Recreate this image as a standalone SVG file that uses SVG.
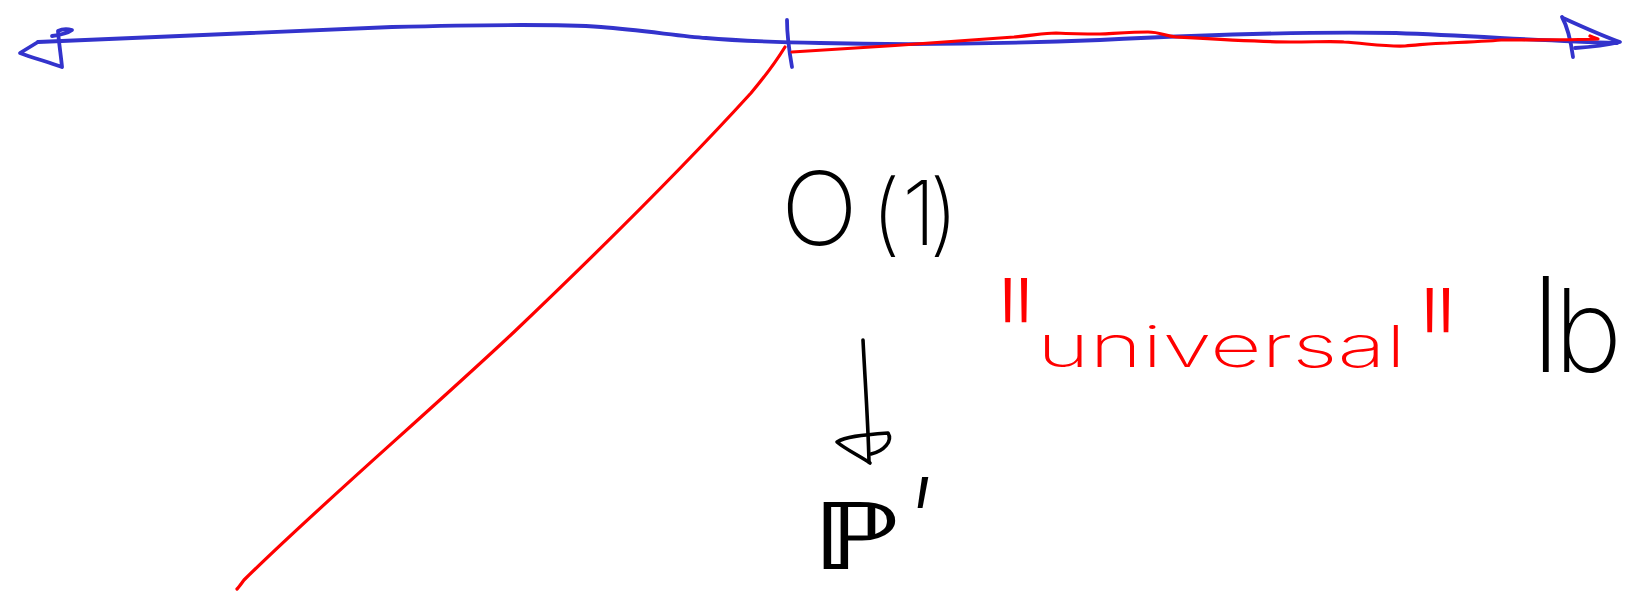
<svg xmlns="http://www.w3.org/2000/svg" width="1641" height="604" viewBox="0 0 1641 604">
<style>
.ink{fill:none;stroke-linecap:round;stroke-linejoin:round}
.blue{stroke:#3333cc;stroke-width:3.8}
.red{stroke:#ff0000;stroke-width:3.2}
.black{stroke:#000;stroke-width:3.6}
.t{font-family:Inter,"Open Sans","DejaVu Sans",sans-serif;font-weight:150}
.tb{fill:#000}
.tr{fill:#ff0000}
</style>
<rect width="1641" height="604" fill="#fff"/>
<g id="axes">
<path class="ink blue" d="M38,42 C120,38 250,32 392,27 C470,25 560,24 601,27 C640,30 680,36 706,38 C740,41 770,42 820,43 C900,45 1000,44 1100,40 C1200,35 1300,31 1396,33 C1480,36 1540,41 1617,43"/>
<path class="ink blue" d="M38,42 L20,53 C30,57 48,62 62,67 C61,56 59,44 58,31 C62,29 68,29 72,30 C68,33 60,35 52,36"/>
<path class="ink blue" d="M1562,17 C1567,26 1571,42 1573,57"/>
<path class="ink blue" d="M1563,18 C1585,28 1605,37 1620,42 C1607,45 1590,47 1575,48"/>
<path class="ink blue" d="M787,20 C787,35 789,50 792,67"/>
<path class="ink red" d="M792,52 C860,48 950,42 1014,37 C1035,35 1045,33 1056,33 C1075,34 1085,34 1100,34 C1120,33 1135,32 1148,32 C1160,32 1165,36 1176,37 C1210,39 1260,42 1291,42 C1315,42 1335,41 1344,42 C1370,44 1390,47 1405,46 C1420,45 1432,43 1448,43 C1470,42 1490,41 1501,40 C1540,40 1575,40 1598,39 C1595,38 1592,37 1590,36"/>
<path class="ink red" d="M785,47 C772,68 762,80 751,93 C690,160 600,250 514,332 C420,420 320,505 244,580 C241,584 239,587 237,589"/>
</g>
<g id="connectors">
<path class="ink black" d="M863,340 C865,380 868,420 869,462"/>
<path class="ink black" d="M870,463 C860,456 845,449 837,442 C845,437 860,435 888,433 C893,441 884,451 871,454"/>
</g>
<g id="label-o1">
<text class="t tb" y="245"><tspan x="781" font-size="102">O</tspan><tspan x="871 902 929" font-size="90">(1)</tspan></text>
</g>
<g id="label-universal">
<text class="t tr" font-size="100" font-weight="100" transform="translate(990,413) scale(1.25,1.85)">"</text>
<text class="t tr" x="1037" y="367" font-size="58" textLength="369" lengthAdjust="spacingAndGlyphs">universal</text>
<text class="t tr" font-size="100" font-weight="100" transform="translate(1412,423) scale(1.25,1.85)">"</text>
</g>
<g id="label-lb">
<text class="t tb" x="1531" y="372" font-weight="100"><tspan font-size="132">l</tspan><tspan font-size="116" dx="-7">b</tspan></text>
</g>
<g id="label-p">
<text class="tb" font-family="'DejaVu Sans',sans-serif" font-weight="200" font-size="94" transform="translate(810,569) scale(1.5,1)">ℙ</text>
<text class="t tb" font-size="130" font-weight="100" font-style="italic" x="897" y="572">'</text>
</g>
</svg>
